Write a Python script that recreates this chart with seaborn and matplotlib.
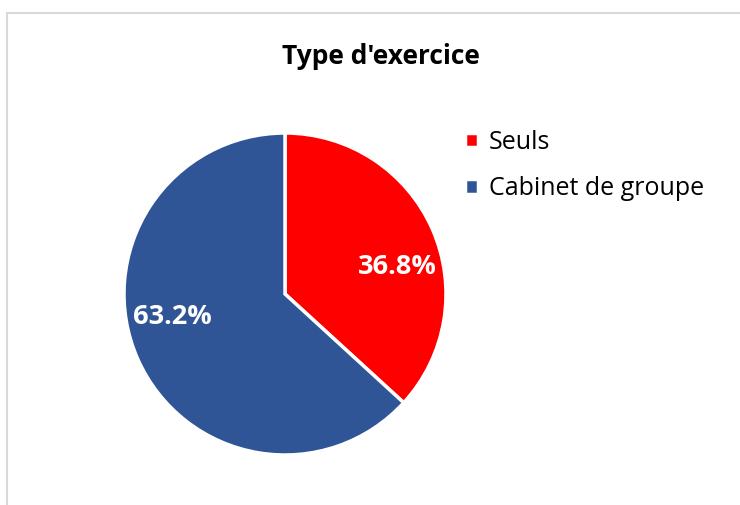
import seaborn as sns
from matplotlib import pyplot as plt
from matplotlib.patches import Rectangle

# data
categories = ["Seuls", "Cabinet de groupe"]
values = [36.8, 63.2]
colors = ["#FF0000", "#2F5597"]
title = "Type d'exercice"


def main():
    sns.set_theme(style="white")
    plt.rcParams['font.family'] = ['Open Sans', 'DejaVu Sans']

    fig = plt.figure(figsize=(7.4, 5.05), dpi=100)
    W, H = 740, 505

    # light chart frame (cut at right/bottom)
    fig.patches.append(Rectangle((7 / W, -0.1), 1.2, 1 - 13 / H + 0.1,
                                 transform=fig.transFigure, fill=False,
                                 edgecolor="#D9D9D9", linewidth=1.5))

    # pie centred at (285, 294) px, radius 160 px
    cx, cy, r = 285, 294, 161
    ax = fig.add_axes([(cx - r) / W, (H - cy - r) / H, 2 * r / W, 2 * r / H])
    wedges, _, autotexts = ax.pie(values, colors=colors, startangle=90,
                                  counterclock=False, radius=1,
                                  autopct=lambda p: f"{p:.1f}%",
                                  wedgeprops=dict(edgecolor="white", linewidth=2.5),
                                  textprops=dict(color="white", fontsize=19.5,
                                                 fontweight="bold"))
    ax.set_xlim(-1, 1)
    ax.set_ylim(-1, 1)
    ax.set_aspect("auto")

    # label positions as Excel placed them
    label_pos = [(0.70, 0.17), (-0.70, -0.14)]
    for t, (x, y) in zip(autotexts, label_pos):
        t.set_position((x, y))
        t.set_ha("center")
        t.set_va("center")

    fig.text(381 / W, 1 - 56 / H, title, ha="center", va="center",
             fontsize=19, fontweight="bold", color="black")

    leg = fig.legend(wedges, categories, loc="upper left",
                     bbox_to_anchor=(455 / W, 1 - 120 / H), frameon=False,
                     fontsize=18, handlelength=0.5, handleheight=0.5,
                     handletextpad=0.45, labelspacing=0.85, borderaxespad=0)
    for t in leg.get_texts():
        t.set_color("black")

    fig.savefig("out.png", dpi=100)


if __name__ == '__main__':
    main()
